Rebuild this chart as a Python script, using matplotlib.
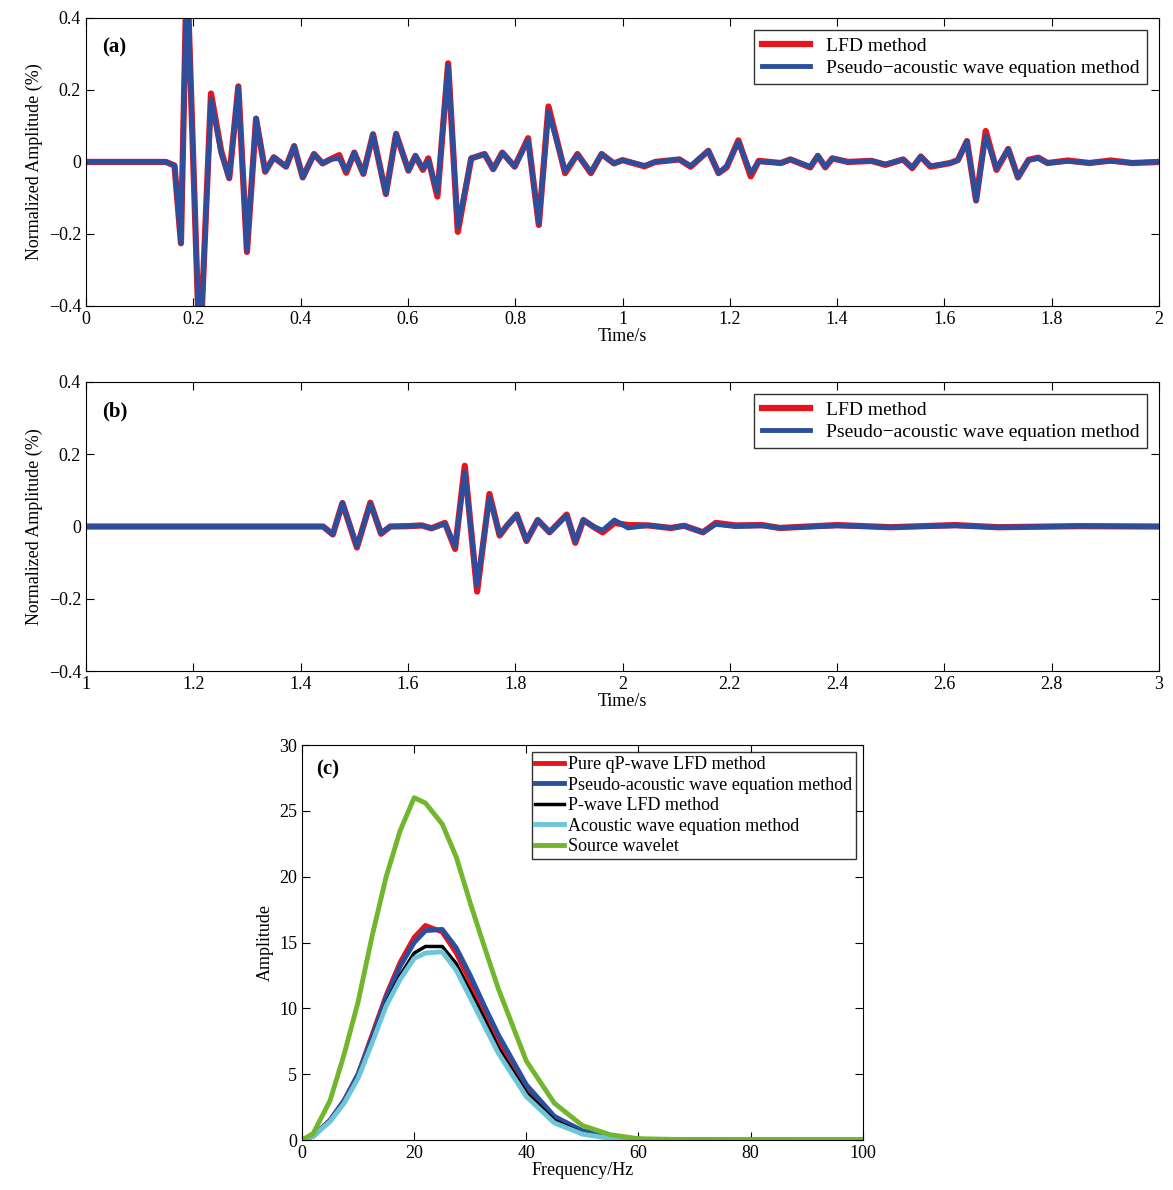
import matplotlib
matplotlib.use("Agg")
import matplotlib.pyplot as plt

plt.rcParams['font.family'] = ['Liberation Serif', 'DejaVu Serif']
plt.rcParams['font.size'] = 13

# Panel (a) extrema (time s, amplitude)
ta = [0, 0.149, 0.165, 0.177, 0.188, 0.212, 0.233, 0.252, 0.267, 0.284, 0.300, 0.317, 0.334, 0.350, 0.373,
      0.388, 0.404, 0.425, 0.441, 0.455, 0.472, 0.485, 0.500, 0.517, 0.535, 0.559, 0.578, 0.601, 0.614,
      0.628, 0.638, 0.655, 0.675, 0.693, 0.718, 0.743, 0.759, 0.776, 0.799, 0.824, 0.844, 0.862, 0.893,
      0.916, 0.941, 0.961, 0.984, 1.000, 1.041, 1.061, 1.106, 1.127, 1.160, 1.179, 1.194, 1.216, 1.239,
      1.254, 1.295, 1.313, 1.350, 1.364, 1.378, 1.391, 1.420, 1.464, 1.490, 1.523, 1.540, 1.556, 1.574,
      1.611, 1.625, 1.642, 1.659, 1.677, 1.697, 1.719, 1.737, 1.757, 1.775, 1.792, 1.830, 1.870, 1.910,
      1.950, 2.0]
aa_blue = [0, 0, -0.01, -0.226, 0.55, -0.55, 0.175, 0.024, -0.045, 0.207, -0.246, 0.122, -0.027, 0.013, -0.013,
           0.044, -0.043, 0.022, -0.004, 0.007, 0.010, -0.025, 0.026, -0.033, 0.077, -0.089, 0.078, -0.024, 0.017,
           -0.018, 0.004, -0.085, 0.268, -0.180, 0.010, 0.022, -0.020, 0.026, -0.013, 0.060, -0.170, 0.140, -0.025,
           0.020, -0.028, 0.022, -0.004, 0.005, -0.010, 0.0, 0.007, -0.011, 0.031, -0.031, -0.011, 0.055, -0.030,
           0.001, -0.003, 0.007, -0.013, 0.017, -0.013, 0.010, 0.0, 0.003, -0.006, 0.007, -0.015, 0.015, -0.011,
           -0.003, 0.005, 0.058, -0.107, 0.072, -0.018, 0.036, -0.043, 0.006, 0.010, -0.003, 0.002, -0.002, 0.002,
           -0.002, 0.0]
aa_red = [0, 0, -0.01, -0.226, 0.55, -0.55, 0.190, 0.030, -0.045, 0.210, -0.250, 0.120, -0.027, 0.013, -0.013,
          0.044, -0.043, 0.022, -0.004, 0.007, 0.019, -0.030, 0.026, -0.033, 0.077, -0.089, 0.078, -0.024, 0.017,
          -0.022, 0.010, -0.096, 0.274, -0.194, 0.010, 0.022, -0.020, 0.026, -0.013, 0.066, -0.175, 0.154, -0.031,
          0.022, -0.031, 0.022, -0.004, 0.005, -0.012, 0.0, 0.007, -0.013, 0.031, -0.031, -0.015, 0.060, -0.040,
          0.003, -0.003, 0.007, -0.015, 0.017, -0.015, 0.010, 0.0, 0.003, -0.008, 0.007, -0.017, 0.015, -0.013,
          -0.003, 0.005, 0.058, -0.107, 0.086, -0.022, 0.036, -0.043, 0.006, 0.012, -0.003, 0.004, -0.003, 0.004,
          -0.003, 0.0]

# Panel (b) extrema
tb = [1.0, 1.442, 1.460, 1.478, 1.505, 1.530, 1.550, 1.567, 1.600, 1.626, 1.644, 1.669, 1.688, 1.706, 1.729,
      1.752, 1.771, 1.785, 1.803, 1.821, 1.842, 1.864, 1.896, 1.912, 1.927, 1.945, 1.963, 1.985, 2.010,
      2.048, 2.090, 2.115, 2.150, 2.174, 2.210, 2.260, 2.293, 2.400, 2.500, 2.620, 2.700, 2.850, 3.0]
bb_blue = [0, 0, -0.022, 0.065, -0.055, 0.063, -0.018, 0.0, 0.001, 0.003, -0.005, 0.007, -0.055, 0.150, -0.165,
           0.080, -0.022, 0.003, 0.033, -0.039, 0.018, -0.016, 0.030, -0.040, 0.018, 0.0, -0.010, 0.018, -0.004,
           0.003, -0.004, 0.002, -0.016, 0.006, 0.0, 0.002, -0.004, 0.002, -0.002, 0.002, -0.002, 0.001, 0.0]
bb_red = [0, 0, -0.022, 0.065, -0.058, 0.066, -0.020, 0.0, 0.001, 0.003, -0.005, 0.010, -0.062, 0.168, -0.180,
          0.090, -0.025, 0.003, 0.033, -0.040, 0.018, -0.016, 0.033, -0.045, 0.018, 0.0, -0.016, 0.010, 0.004,
          0.003, -0.004, 0.002, -0.016, 0.010, 0.003, 0.004, -0.004, 0.004, -0.002, 0.004, -0.002, 0.001, 0.0]

# Panel (c) spectra
f = [0, 2, 5, 7.5, 10, 12.5, 15, 17.5, 20, 22, 25, 27.5, 30, 32.5, 35, 40, 45, 50, 55, 60, 70, 100]
src = [0, 0.5, 3.0, 6.5, 10.5, 15.5, 20.0, 23.5, 26.0, 25.6, 24.0, 21.5, 18.0, 14.7, 11.5, 6.0, 2.8, 1.1, 0.4, 0.1, 0.02, 0]
red = [0, 0.3, 1.5, 3.0, 5.0, 8.0, 11.0, 13.5, 15.4, 16.3, 15.8, 14.2, 12.0, 9.7, 7.5, 3.8, 1.6, 0.6, 0.2, 0.05, 0.01, 0]
blue = [0, 0.3, 1.5, 3.0, 5.0, 7.8, 10.8, 13.2, 15.0, 15.9, 16.0, 14.6, 12.5, 10.2, 8.0, 4.2, 1.8, 0.7, 0.2, 0.05, 0.01, 0]
black = [0, 0.3, 1.4, 2.9, 4.8, 7.6, 10.4, 12.5, 14.2, 14.7, 14.7, 13.4, 11.3, 9.2, 7.0, 3.6, 1.5, 0.5, 0.15, 0.03, 0.0, 0]
cyan = [0, 0.3, 1.4, 2.8, 4.7, 7.4, 10.2, 12.2, 13.8, 14.2, 14.3, 12.9, 10.8, 8.7, 6.6, 3.3, 1.3, 0.45, 0.12, 0.03, 0.0, 0]

RED = '#e8141c'
BLUE = '#2a4f9e'

fig = plt.figure(figsize=(11.73, 11.9), dpi=100)
axa = fig.add_axes([0.0733, 0.7429, 0.9148, 0.242])
axb = fig.add_axes([0.0733, 0.4361, 0.9148, 0.2429])
axc = fig.add_axes([0.2575, 0.042, 0.478, 0.3319])

for ax, t, r, b, xl, lab in [(axa, ta, aa_red, aa_blue, (0, 2), '(a)'), (axb, tb, bb_red, bb_blue, (1, 3), '(b)')]:
    ax.plot(t, r, color=RED, lw=4.5, label='LFD method', solid_joinstyle='round')
    ax.plot(t, b, color=BLUE, lw=3.5, label='Pseudo\u2212acoustic wave equation method', solid_joinstyle='round')
    ax.set_xlim(*xl)
    ax.set_ylim(-0.4, 0.4)
    ax.set_yticks([-0.4, -0.2, 0, 0.2, 0.4])
    ax.set_yticklabels(['\u22120.4', '\u22120.2', '0', '0.2', '0.4'])
    ax.set_xlabel('Time/s', labelpad=0)
    ax.set_ylabel('Normalized Amplitude (%)')
    ax.tick_params(direction='in', top=True, right=True, length=6)
    ax.text(0.015, 0.88, lab, transform=ax.transAxes, fontweight='bold', fontsize=15)
    ax.legend(loc='upper right', fancybox=False, edgecolor='black', handlelength=2.5, fontsize=14,
              borderaxespad=0.6, labelspacing=0.2)
axb.set_xticks([1, 1.2, 1.4, 1.6, 1.8, 2, 2.2, 2.4, 2.6, 2.8, 3])
axb.set_xticklabels(['1', '1.2', '1.4', '1.6', '1.8', '2', '2.2', '2.4', '2.6', '2.8', '3'])
axa.set_xticks([0, 0.2, 0.4, 0.6, 0.8, 1, 1.2, 1.4, 1.6, 1.8, 2])
axa.set_xticklabels(['0', '0.2', '0.4', '0.6', '0.8', '1', '1.2', '1.4', '1.6', '1.8', '2'])

axc.plot(f, red, color=RED, lw=3.5, label='Pure qP-wave LFD method')
axc.plot(f, blue, color=BLUE, lw=3.5, label='Pseudo-acoustic wave equation method')
axc.plot(f, black, color='black', lw=2.5, label='P-wave LFD method')
axc.plot(f, cyan, color='#6cc5d8', lw=3.5, label='Acoustic wave equation method')
axc.plot(f, src, color='#72b62e', lw=3.5, label='Source wavelet')
axc.set_xlim(0, 100)
axc.set_ylim(0, 30)
axc.set_xticks([0, 20, 40, 60, 80, 100])
axc.set_yticks([0, 5, 10, 15, 20, 25, 30])
axc.set_xlabel('Frequency/Hz', labelpad=0)
axc.set_ylabel('Amplitude')
axc.tick_params(direction='in', top=True, right=True, length=6)
axc.text(0.025, 0.925, '(c)', transform=axc.transAxes, fontweight='bold', fontsize=15)
axc.legend(loc='upper right', fancybox=False, edgecolor='black', handlelength=1.6, handletextpad=0.2,
           fontsize=13, borderaxespad=0.4, labelspacing=0.2, borderpad=0.2)

fig.savefig('out.png', dpi=100)
